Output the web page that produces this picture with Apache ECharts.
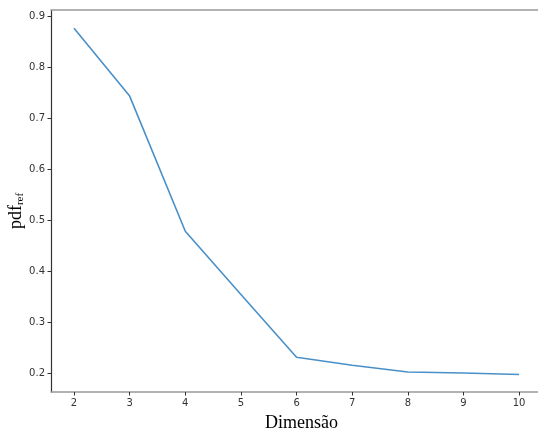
<!DOCTYPE html>
<html><head><meta charset="utf-8">
<script src="https://cdn.jsdelivr.net/npm/echarts@6/dist/echarts.min.js"></script>
<style>html,body{margin:0;padding:0;background:#fff}#c{width:538px;height:432px}</style>
</head><body><div id="c"></div>
<script>
const dims = [2, 3, 4, 5, 6, 7, 8, 9, 10];
const pdfRef = [0.876, 0.743, 0.478, 0.354, 0.231, 0.215, 0.202, 0.200, 0.197];
const xTicks = [2, 3, 4, 5, 6, 7, 8, 9, 10];
const yTicks = [0.2, 0.3, 0.4, 0.5, 0.6, 0.7, 0.8, 0.9];

const chart = echarts.init(document.getElementById('c'), null, {renderer: 'canvas'});
const tickLabel = {fontFamily: 'DejaVu Sans', fontSize: 10, color: '#333'};
chart.setOption({
  animation: false,
  grid: {left: 51, top: 10, right: 0, bottom: 40, outerBoundsMode: 'none', containLabel: false},
  xAxis: [{
    type: 'value', min: 1.586, max: 10.34,
    name: 'Dimensão', nameLocation: 'middle', nameGap: 22,
    nameTextStyle: {fontFamily: 'Liberation Serif', fontSize: 18, color: '#000', padding: [0, 0, 0, 14]},
    axisLine: {show: true, lineStyle: {color: '#999', width: 1.5}},
    axisTick: {show: true, length: 3.5, lineStyle: {color: '#333'}, customValues: xTicks},
    axisLabel: {...tickLabel, margin: 6, customValues: xTicks},
    splitLine: {show: false}
  }, {
    type: 'value', position: 'top', min: 1.586, max: 10.34,
    axisLine: {show: true, onZero: false, lineStyle: {color: '#999', width: 1.5}},
    axisTick: {show: false}, axisLabel: {show: false}, splitLine: {show: false}
  }],
  yAxis: {
    type: 'value', min: 0.1627, max: 0.9118,
    name: '{a|pdf}{b|ref}', nameLocation: 'middle', nameGap: 25, nameRotate: 90,
    nameMoveOverlap: false,
    nameTextStyle: {
      padding: [0, 20, 0, 0],
      rich: {
        a: {fontFamily: 'Liberation Serif', fontSize: 18, color: '#000'},
        b: {fontFamily: 'Liberation Serif', fontSize: 11, color: '#000', verticalAlign: 'bottom', padding: [8, 0, 0, 0]}
      }
    },
    axisLine: {show: true, onZero: false, lineStyle: {color: '#333', width: 1.2}},
    axisTick: {show: true, length: 3.5, lineStyle: {color: '#333'}, customValues: yTicks},
    axisLabel: {...tickLabel, margin: 6, customValues: yTicks, formatter: v => v.toFixed(1)},
    splitLine: {show: false}
  },
  series: [{
    type: 'line', data: dims.map((d, i) => [d, pdfRef[i]]),
    showSymbol: false, lineStyle: {color: '#4a90c8', width: 1.6}
  }]
});
</script></body></html>
